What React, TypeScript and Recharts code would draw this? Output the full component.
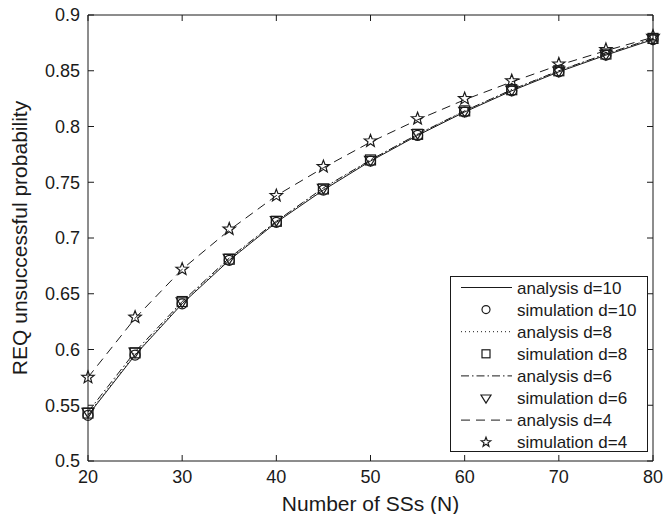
import {
  ComposedChart,
  Line,
  Scatter,
  XAxis,
  YAxis,
  Legend,
} from "recharts";

const ssCounts = [20, 25, 30, 35, 40, 45, 50, 55, 60, 65, 70, 75, 80];

const analysisD10 = [0.541, 0.595, 0.641, 0.68, 0.714, 0.743, 0.769, 0.792, 0.813, 0.832, 0.849, 0.864, 0.878];
const simulationD10 = [0.541, 0.595, 0.641, 0.68, 0.714, 0.743, 0.769, 0.792, 0.813, 0.832, 0.849, 0.864, 0.878];
const analysisD8 = [0.542, 0.596, 0.642, 0.681, 0.715, 0.744, 0.77, 0.793, 0.814, 0.833, 0.85, 0.865, 0.879];
const simulationD8 = [0.543, 0.597, 0.643, 0.681, 0.715, 0.744, 0.77, 0.793, 0.814, 0.833, 0.85, 0.865, 0.879];
const analysisD6 = [0.544, 0.598, 0.643, 0.682, 0.715, 0.745, 0.77, 0.793, 0.814, 0.833, 0.85, 0.865, 0.879];
const simulationD6 = [0.544, 0.598, 0.643, 0.682, 0.716, 0.745, 0.77, 0.794, 0.814, 0.833, 0.85, 0.865, 0.879];
const analysisD4 = [0.575, 0.628, 0.672, 0.707, 0.738, 0.763, 0.786, 0.806, 0.824, 0.84, 0.855, 0.868, 0.88];
const simulationD4 = [0.575, 0.629, 0.672, 0.708, 0.738, 0.764, 0.787, 0.807, 0.825, 0.841, 0.856, 0.869, 0.881];

const xTicks = [20, 30, 40, 50, 60, 70, 80];
const yTicks = [0.5, 0.55, 0.6, 0.65, 0.7, 0.75, 0.8, 0.85, 0.9];

const legendLabels = [
  "analysis d=10",
  "simulation d=10",
  "analysis d=8",
  "simulation d=8",
  "analysis d=6",
  "simulation d=6",
  "analysis d=4",
  "simulation d=4",
];

const rows = ssCounts.map((n, i) => ({
  n,
  a10: analysisD10[i],
  s10: simulationD10[i],
  a8: analysisD8[i],
  s8: simulationD8[i],
  a6: analysisD6[i],
  s6: simulationD6[i],
  a4: analysisD4[i],
  s4: simulationD4[i],
}));

const INK = "#1a1a1a";
const FONT = "'Liberation Sans', Arial, Helvetica, sans-serif";

const DASH_D8 = "1 3";
const DASH_D6 = "8 3 1.5 3";
const DASH_D4 = "9 6";

function circle(cx: number, cy: number, r = 5) {
  return <circle cx={cx} cy={cy} r={r} fill="none" stroke={INK} strokeWidth={1.2} />;
}

function square(cx: number, cy: number, s = 5) {
  return (
    <rect x={cx - s} y={cy - s} width={2 * s} height={2 * s} fill="none" stroke={INK} strokeWidth={1.2} />
  );
}

function triangle(cx: number, cy: number, s = 6) {
  const d = `M${cx - s},${cy - s * 0.6} L${cx + s},${cy - s * 0.6} L${cx},${cy + s} Z`;
  return <path d={d} fill="none" stroke={INK} strokeWidth={1.2} />;
}

function star(cx: number, cy: number, r = 6.5) {
  const pts: string[] = [];
  for (let k = 0; k < 10; k++) {
    const rad = k % 2 === 0 ? r : r * 0.42;
    const a = -Math.PI / 2 + (k * Math.PI) / 5;
    pts.push(`${cx + rad * Math.cos(a)},${cy + rad * Math.sin(a)}`);
  }
  return <polygon points={pts.join(" ")} fill="none" stroke={INK} strokeWidth={1.2} />;
}

// eslint-disable-next-line @typescript-eslint/no-explicit-any
const markerShape = (fn: (x: number, y: number) => any) => (p: any) => fn(p.cx, p.cy);

function LegendBox() {
  const w = 198;
  const h = 176;
  const rowH = 22.1;
  const y0 = 11.5;
  return (
    <svg width={w} height={h} style={{ display: "block" }}>
      <rect x={0.5} y={0.5} width={w - 1} height={h - 1} fill="#fff" stroke={INK} strokeWidth={1} />
      {legendLabels.map((label, i) => {
        const y = y0 + i * rowH;
        let sample = null;
        if (i === 0) sample = <line x1={11} x2={62} y1={y} y2={y} stroke={INK} />;
        if (i === 2) sample = <line x1={11} x2={62} y1={y} y2={y} stroke={INK} strokeDasharray={DASH_D8} />;
        if (i === 4) sample = <line x1={11} x2={62} y1={y} y2={y} stroke={INK} strokeDasharray={DASH_D6} />;
        if (i === 6) sample = <line x1={11} x2={62} y1={y} y2={y} stroke={INK} strokeDasharray={DASH_D4} />;
        if (i === 1) sample = circle(36, y, 4);
        if (i === 3) sample = square(36, y, 4);
        if (i === 5) sample = triangle(36, y, 5);
        if (i === 7) sample = star(36, y, 5);
        return (
          <g key={label}>
            {sample}
            <text x={67} y={y} dy="0.36em" fontSize={17} fill={INK} fontFamily={FONT}>
              {label}
            </text>
          </g>
        );
      })}
    </svg>
  );
}

export default function App() {
  const tickStyle = { fontSize: 18, fill: INK, fontFamily: FONT };
  return (
    <div style={{ position: "absolute", left: 0, top: 0, width: 664, height: 514, background: "#fff" }}>
      <ComposedChart width={664} height={514} data={rows} margin={{ top: 0, right: 0, bottom: 0, left: 0 }}>
        <XAxis
          dataKey="n"
          type="number"
          domain={[20, 80]}
          ticks={xTicks}
          height={53}
          tickSize={-6}
          tickMargin={15}
          stroke={INK}
          tick={tickStyle}
          label={{
            value: "Number of SSs (N)",
            position: "insideBottom",
            offset: 3,
            style: { fontSize: 21, fill: INK, fontFamily: FONT },
          }}
        />
        <XAxis
          xAxisId="top"
          dataKey="n"
          type="number"
          orientation="top"
          domain={[20, 80]}
          ticks={xTicks}
          height={15}
          tickSize={-6}
          stroke={INK}
          tickFormatter={() => ""}
        />
        <YAxis
          type="number"
          domain={[0.5, 0.9]}
          ticks={yTicks}
          width={88}
          tickSize={-6}
          tickMargin={14}
          stroke={INK}
          tick={tickStyle}
          tickFormatter={(v) => String(v)}
          label={{
            // eslint-disable-next-line @typescript-eslint/no-explicit-any
            content: (props: any) => {
              const vb = props.viewBox;
              const cx = vb.x + 19;
              const cy = vb.y + vb.height / 2;
              return (
                <text
                  x={cx}
                  y={cy}
                  transform={`rotate(-90 ${cx} ${cy})`}
                  textAnchor="middle"
                  dominantBaseline="central"
                  fontSize={21}
                  fill={INK}
                  fontFamily={FONT}
                >
                  REQ unsuccessful probability
                </text>
              );
            },
          }}
        />
        <YAxis
          yAxisId="right"
          type="number"
          orientation="right"
          domain={[0.5, 0.9]}
          ticks={yTicks}
          width={11}
          tickSize={-6}
          stroke={INK}
          tickFormatter={() => ""}
        />
        <Line
          xAxisId="top"
          yAxisId="right"
          dataKey="a10"
          stroke="none"
          dot={false}
          activeDot={false}
          isAnimationActive={false}
        />
        <Line dataKey="a10" stroke={INK} strokeWidth={1} dot={false} activeDot={false} isAnimationActive={false} />
        <Line
          dataKey="a8"
          stroke={INK}
          strokeWidth={1}
          strokeDasharray={DASH_D8}
          dot={false}
          activeDot={false}
          isAnimationActive={false}
        />
        <Line
          dataKey="a6"
          stroke={INK}
          strokeWidth={1}
          strokeDasharray={DASH_D6}
          dot={false}
          activeDot={false}
          isAnimationActive={false}
        />
        <Line
          dataKey="a4"
          stroke={INK}
          strokeWidth={1}
          strokeDasharray={DASH_D4}
          dot={false}
          activeDot={false}
          isAnimationActive={false}
        />
        <Scatter dataKey="s10" shape={markerShape((x, y) => circle(x, y))} isAnimationActive={false} />
        <Scatter dataKey="s8" shape={markerShape((x, y) => square(x, y))} isAnimationActive={false} />
        <Scatter dataKey="s6" shape={markerShape((x, y) => triangle(x, y))} isAnimationActive={false} />
        <Scatter dataKey="s4" shape={markerShape((x, y) => star(x, y))} isAnimationActive={false} />
        <Legend
          layout="horizontal"
          verticalAlign="middle"
          align="center"
          content={() => <LegendBox />}
          wrapperStyle={{ left: 450, top: 276, width: 198, height: 176 }}
        />
      </ComposedChart>
    </div>
  );
}
